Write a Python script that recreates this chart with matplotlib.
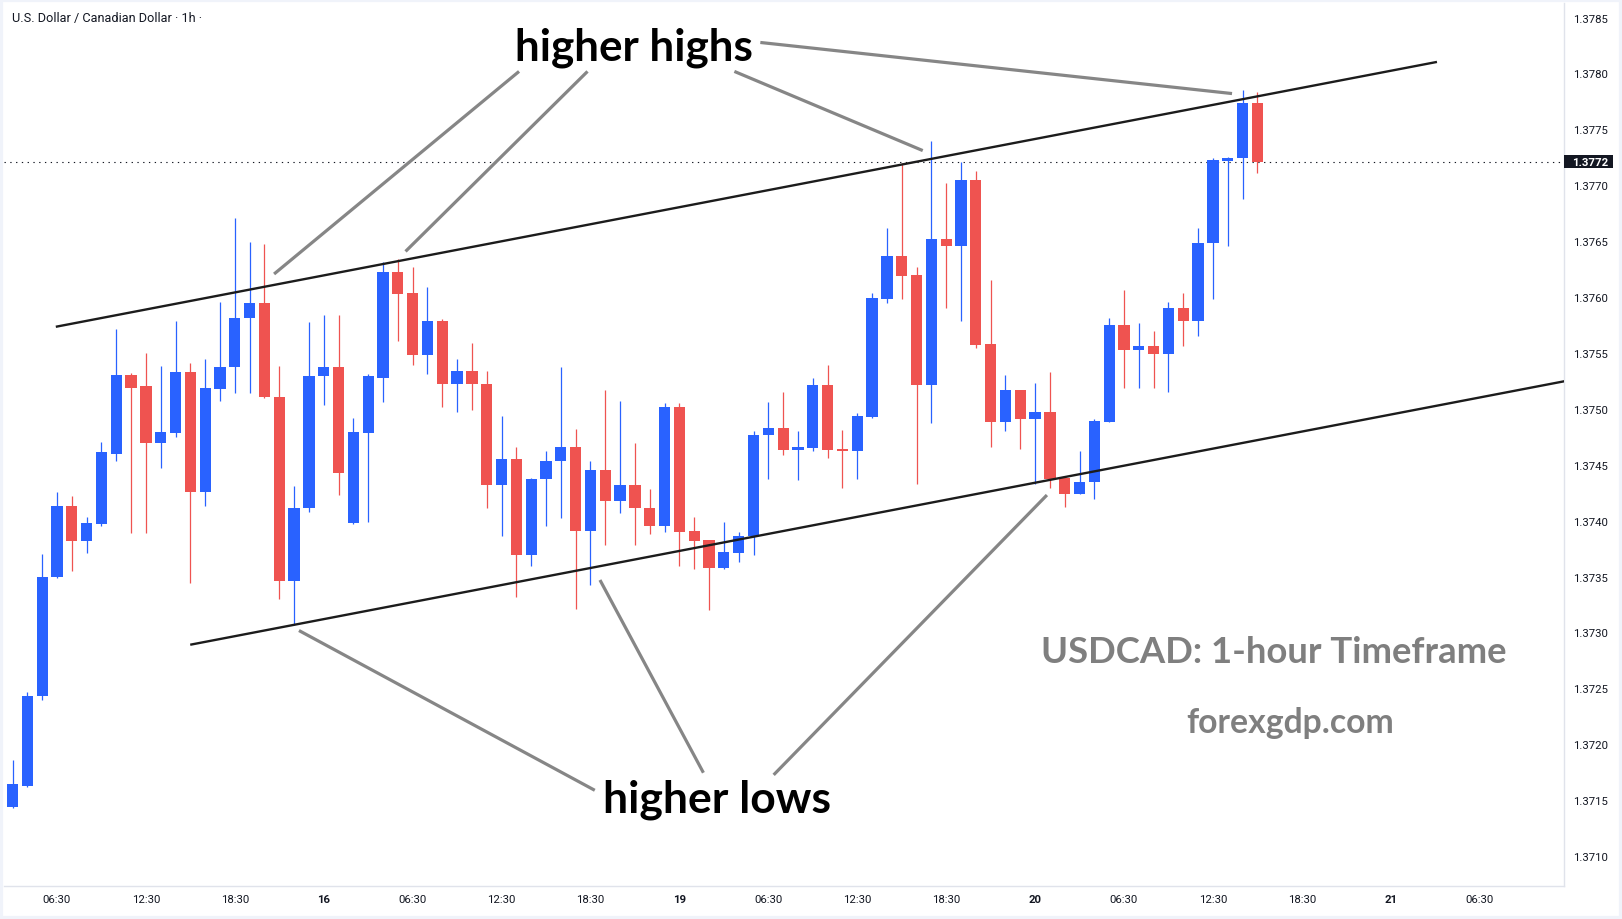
import matplotlib
matplotlib.use("Agg")
import matplotlib.pyplot as plt
from matplotlib.patches import Rectangle
from matplotlib.transforms import blended_transform_factory

# hourly USDCAD candles, bar index 0 = 15th 03:30
OPENS = [
    1.37144, 1.37163, 1.37243, 1.37350, 1.37413, 1.37382, 1.37397, 1.37460, 1.37530, 1.37520,
    1.37469, 1.37478, 1.37533, 1.37426, 1.37518, 1.37537, 1.37581, 1.37595, 1.37511, 1.37346,
    1.37411, 1.37529, 1.37537, 1.37398, 1.37478, 1.37528, 1.37622, 1.37604, 1.37548, 1.37579,
    1.37522, 1.37534, 1.37522, 1.37432, 1.37455, 1.37369, 1.37437, 1.37453, 1.37466, 1.37391,
    1.37445, 1.37418, 1.37432, 1.37411, 1.37395, 1.37502, 1.37391, 1.37383, 1.37358, 1.37371,
    1.37386, 1.37477, 1.37483, 1.37463, 1.37465, 1.37521, 1.37464, 1.37462, 1.37493, 1.37598,
    1.37637, 1.37620, 1.37521, 1.37652, 1.37646, 1.37705, 1.37558, 1.37488, 1.37517, 1.37491,
    1.37497, 1.37438, 1.37424, 1.37435, 1.37488, 1.37575, 1.37553, 1.37556, 1.37549, 1.37590,
    1.37579, 1.37648, 1.37722, 1.37724, 1.37774,
]
HIGHS = [
    1.37186, 1.37247, 1.37370, 1.37426, 1.37422, 1.37403, 1.37470, 1.37571, 1.37532, 1.37550,
    1.37538, 1.37579, 1.37541, 1.37545, 1.37596, 1.37671, 1.37649, 1.37647, 1.37538, 1.37431,
    1.37578, 1.37584, 1.37584, 1.37492, 1.37531, 1.37631, 1.37634, 1.37627, 1.37609, 1.37580,
    1.37545, 1.37559, 1.37534, 1.37494, 1.37466, 1.37438, 1.37462, 1.37537, 1.37482, 1.37453,
    1.37517, 1.37507, 1.37469, 1.37428, 1.37505, 1.37505, 1.37403, 1.37383, 1.37399, 1.37390,
    1.37480, 1.37506, 1.37515, 1.37480, 1.37528, 1.37539, 1.37481, 1.37496, 1.37604, 1.37662,
    1.37720, 1.37627, 1.37740, 1.37702, 1.37721, 1.37713, 1.37615, 1.37530, 1.37517, 1.37523,
    1.37533, 1.37438, 1.37462, 1.37491, 1.37581, 1.37606, 1.37577, 1.37570, 1.37596, 1.37604,
    1.37662, 1.37724, 1.37725, 1.37785, 1.37783,
]
LOWS = [
    1.37143, 1.37162, 1.37240, 1.37349, 1.37355, 1.37371, 1.37395, 1.37453, 1.37389, 1.37389,
    1.37447, 1.37475, 1.37344, 1.37413, 1.37507, 1.37514, 1.37514, 1.37510, 1.37330, 1.37307,
    1.37408, 1.37503, 1.37423, 1.37397, 1.37399, 1.37506, 1.37561, 1.37539, 1.37531, 1.37502,
    1.37497, 1.37499, 1.37411, 1.37386, 1.37332, 1.37359, 1.37395, 1.37402, 1.37321, 1.37342,
    1.37378, 1.37407, 1.37378, 1.37388, 1.37390, 1.37359, 1.37357, 1.37320, 1.37357, 1.37363,
    1.37369, 1.37437, 1.37459, 1.37436, 1.37462, 1.37456, 1.37429, 1.37437, 1.37492, 1.37595,
    1.37598, 1.37433, 1.37487, 1.37590, 1.37579, 1.37554, 1.37466, 1.37480, 1.37464, 1.37433,
    1.37429, 1.37412, 1.37424, 1.37419, 1.37488, 1.37519, 1.37519, 1.37519, 1.37515, 1.37556,
    1.37565, 1.37598, 1.37646, 1.37688, 1.37711,
]
CLOSES = [
    1.37164, 1.37243, 1.37350, 1.37413, 1.37382, 1.37398, 1.37461, 1.37530, 1.37519, 1.37469,
    1.37479, 1.37533, 1.37426, 1.37519, 1.37537, 1.37581, 1.37595, 1.37511, 1.37346, 1.37411,
    1.37529, 1.37537, 1.37443, 1.37479, 1.37529, 1.37622, 1.37603, 1.37548, 1.37579, 1.37522,
    1.37534, 1.37522, 1.37432, 1.37455, 1.37369, 1.37437, 1.37453, 1.37466, 1.37391, 1.37445,
    1.37418, 1.37432, 1.37411, 1.37395, 1.37502, 1.37390, 1.37382, 1.37358, 1.37372, 1.37386,
    1.37477, 1.37483, 1.37463, 1.37466, 1.37521, 1.37463, 1.37462, 1.37494, 1.37599, 1.37637,
    1.37619, 1.37521, 1.37652, 1.37646, 1.37705, 1.37557, 1.37488, 1.37517, 1.37491, 1.37497,
    1.37437, 1.37424, 1.37435, 1.37489, 1.37575, 1.37553, 1.37556, 1.37549, 1.37590, 1.37579,
    1.37648, 1.37723, 1.37724, 1.37774, 1.37721,
]

X_TICKS = [3, 9, 15, 21, 27, 33, 39, 45, 51, 57, 63, 69, 75, 81, 87, 93, 99]
X_LABELS = [
    "06:30", "12:30", "18:30", "16", "06:30", "12:30", "18:30", "19", "06:30",
    "12:30", "18:30", "20", "06:30", "12:30", "18:30", "21", "06:30",
]
DAY_LABELS = ["16", "19", "20", "21"]
Y_TICKS = [1.3710 + 0.0005 * k for k in range(16)]

# channel lines as (bar index, price) pairs
UPPER_LINE = [(3.0, 1.375736), (96.04, 1.378101)]
LOWER_LINE = [(12.07, 1.372892), (105.0, 1.375254)]

# pointer lines from the labels to the swing points
HIGH_POINTERS = [
    [(34.18, 1.378018), (17.65, 1.376206)],
    [(38.80, 1.378018), (26.52, 1.376408)],
    [(48.71, 1.378018), (61.42, 1.377310)],
    [(50.46, 1.378277), (82.29, 1.377820)],
]
LOW_POINTERS = [
    [(19.33, 1.373017), (39.29, 1.371588)],
    [(39.64, 1.373469), (46.62, 1.371745)],
    [(69.80, 1.374229), (51.36, 1.371726)],
]

LABELS = [
    ("higher highs", 41.92, 1.378124, 31.7, "black"),
    ("higher lows", 47.54, 1.371395, 32, "black"),
    ("USDCAD: 1-hour Timeframe", 85.12, 1.372733, 26.3, "#7f7f7f"),
    ("forexgdp.com", 86.20, 1.372108, 24.3, "#7f7f7f"),
]

UP = "#2962ff"
DOWN = "#ef5350"
INK = "#131722"


def main():
    plt.rcParams["font.family"] = ["Roboto", "DejaVu Sans"]
    fig = plt.figure(figsize=(16.22, 9.20), dpi=100)
    ax = fig.add_axes([4 / 1622, 33 / 920, 1560 / 1622, 883 / 920])

    for i, (o, h, l, c) in enumerate(zip(OPENS, HIGHS, LOWS, CLOSES)):
        color = UP if c >= o else DOWN
        ax.vlines(i, l, h, color=color, linewidth=0.9, zorder=2)
        ax.bar(i, max(abs(c - o), 0.000012), bottom=min(o, c), width=0.76,
               color=color, linewidth=0, zorder=3)

    kwargs = {"color": "#1c1c1c", "linewidth": 1.7, "zorder": 4}
    for line in (UPPER_LINE, LOWER_LINE):
        ax.plot([p[0] for p in line], [p[1] for p in line], **kwargs)

    kwargs = {"color": "#868686", "linewidth": 2.3, "zorder": 4,
              "solid_capstyle": "butt"}
    for line in HIGH_POINTERS + LOW_POINTERS:
        ax.plot([p[0] for p in line], [p[1] for p in line], **kwargs)

    for (text, x, y, size, color) in LABELS:
        ax.text(x, y, text, ha="center", va="baseline", fontsize=size,
                color=color, fontweight="bold", family=["Lato", "DejaVu Sans"],
                zorder=5)

    last = CLOSES[-1]
    ax.axhline(last, color=INK, linewidth=0.8, linestyle=(0, (1.2, 4)), zorder=1)
    trans = blended_transform_factory(ax.transAxes, ax.transData)
    ax.add_patch(Rectangle((1.0, last - 0.0000585), 49 / 1560, 0.000117,
                           transform=trans, facecolor=INK, edgecolor="none",
                           clip_on=False, zorder=6))
    ax.text(1.0 + 26 / 1560, last, "{:.4f}".format(last), transform=trans,
            ha="center", va="center", color="white", fontsize=8.2,
            fontweight="bold", clip_on=False, zorder=7)

    ax.set_xlim(-0.574, 104.69)
    ax.set_ylim(1.370732, 1.378630)
    ax.yaxis.tick_right()
    ax.set_yticks(Y_TICKS)
    ax.set_yticklabels(["{:.4f}".format(v) for v in Y_TICKS])
    ax.set_xticks(X_TICKS)
    ax.set_xticklabels(X_LABELS)
    for label in ax.get_xticklabels():
        if label.get_text() in DAY_LABELS:
            label.set_fontweight("bold")
    ax.tick_params(axis="y", length=0, pad=6.5, labelsize=8.2, labelcolor=INK)
    ax.tick_params(axis="x", length=0, pad=6.0, labelsize=8.2, labelcolor=INK)
    for side in ("top", "left"):
        ax.spines[side].set_visible(False)
    for side in ("right", "bottom"):
        ax.spines[side].set_color("#e0e3eb")
        ax.spines[side].set_linewidth(1.0)

    fig.text(11.7 / 1622, 1 - 21.7 / 920, "U.S. Dollar / Canadian Dollar \u00b7 1h \u00b7",
             ha="left", va="baseline", fontsize=9.2, color=INK)
    fig.patches.append(Rectangle((0, 0), 1, 1, transform=fig.transFigure,
                                 fill=False, edgecolor="#f0f3fa", linewidth=4.5))

    fig.savefig("out.png", dpi=100, facecolor="white")
    plt.close(fig)


if __name__ == "__main__":
    main()
